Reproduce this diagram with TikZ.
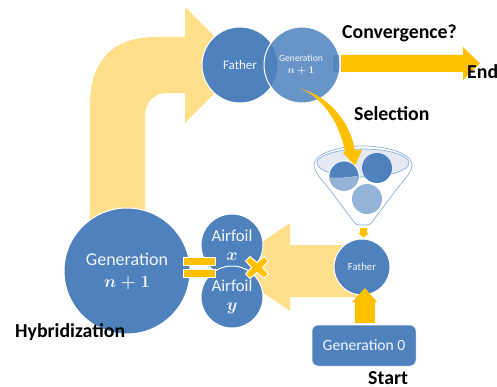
\documentclass[tikz,border=0pt]{standalone}
\usepackage{fontspec}
\setmainfont{Carlito}
\definecolor{blu}{HTML}{4F81BD}
\definecolor{blupale}{HTML}{95B3D7}
\definecolor{org}{HTML}{FFC000}
\definecolor{paley}{HTML}{FFDF8A}
\definecolor{funfill}{HTML}{E4E9F3}
\definecolor{funline}{HTML}{8FB0DC}
\definecolor{wtxt}{HTML}{F2F5FA}
\tikzset{
  ball/.style={circle,fill=blu,draw=white,line width=1pt,inner sep=0pt,text=wtxt,align=center},
  label/.style={font=\bfseries\fontsize{19.8}{22}\selectfont,text=black,inner sep=0pt},
  palearrow/.style={fill=paley,draw=none},
  orgarrow/.style={fill=org,draw=none},
  barstyle/.style={fill=org,draw=white,line width=1pt},
  funnel/.style={draw=funline,line width=0.7pt}
}
\begin{document}
\begin{tikzpicture}[x=1pt,y=-1pt]
\useasboundingbox (0,0) rectangle (497,387);
% big pale arrows
\path[palearrow] (90,220) -- (90,105) .. controls (90,62) and (112,37) .. (155,37) -- (185,37) -- (185,7) -- (243,65) -- (185,123) -- (185,93) -- (168,93) .. controls (154,93) and (145,102) .. (145,116) -- (145,220) -- cycle;
\path[palearrow] (362,245) -- (290,245) -- (290,223) -- (225,267) -- (290,311) -- (290,297) -- (362,297) -- cycle;
% top circles
\node[ball,minimum size=76pt,font=\fontsize{13}{15}\selectfont] (father) at (240,65) {Father};
\node[circle,fill=blu,fill opacity=0.85,draw=white,line width=1pt,minimum size=76pt,inner sep=0pt] (gencirc) at (302,65) {};
\node[text=wtxt,align=center,font=\fontsize{9.6}{11.5}\selectfont\boldmath,inner sep=0pt] (gentext) at (301,65) {Generation\\$n+1$};
% convergence arrow
\path[orgarrow] (341,55) -- (463,55) -- (463,47) -- (480,63.5) -- (463,80) -- (463,72) -- (341,72) -- cycle;
\fill[blu,opacity=0.75] (333,55) rectangle (339,72);
% funnel
\draw[funnel,fill=white] (314,165) .. controls (314,153) and (340,146) .. (363,146) .. controls (386,146) and (412,153) .. (412,165) .. controls (412,172) and (404,180) .. (396,190) -- (372,222) .. controls (370,225) and (368,225) .. (366,225) -- (360,225) .. controls (358,225) and (356,225) .. (354,222) -- (330,190) .. controls (322,180) and (314,172) .. (314,165) -- cycle;
\draw[funnel,fill=funfill] (363,163) ellipse [x radius=46,y radius=14];
\node[circle,fill=blu,minimum size=30pt,inner sep=0pt] (ballb) at (377,168) {};
\node[circle,fill=blu,draw=white,line width=0.8pt,minimum size=30pt,inner sep=0pt] (balla) at (344,176) {};
\begin{scope}
  \clip (300,178) -- (340,178) .. controls (355,177) and (365,175) .. (385,170) -- (420,170) -- (420,230) -- (300,230) -- cycle;
  \fill[white] (344,176) circle (15.4);
  \fill[blupale] (344,176) circle (15);
\end{scope}
\node[circle,fill=blupale,minimum size=30pt,inner sep=0pt] (ballc) at (367,199) {};
% curved arrow into funnel
\path[orgarrow] (300,88.5) .. controls (320,96) and (339,120) .. (345,151.5) -- (343,153) -- (355,165.5) -- (362,150) -- (355,150.5) .. controls (350,122) and (330,97) .. (300,88.5) -- cycle;
% small arrow
\path[orgarrow] (360,228) -- (367,228) -- (367,233) -- (369,233) -- (363.5,237.5) -- (358,233) -- (360,233) -- cycle;
% lower father
\node[ball,minimum size=56pt,font=\fontsize{10.8}{12}\selectfont] (father2) at (362,267) {Father};
% generation 0
\node[rectangle,rounded corners=6pt,fill=blu,draw=white,line width=0.5pt,minimum width=104pt,minimum height=41pt,inner sep=0pt,text=wtxt,font=\fontsize{15.6}{18}\selectfont] (gen0) at (364,345.5) {Generation 0};
\path[orgarrow] (355,323) -- (355,302) -- (352,302) -- (365,288) -- (377,302) -- (375,302) -- (375,323) -- cycle;
% airfoils and generation
\node[ball,minimum size=126pt,font=\fontsize{18}{22}\selectfont\boldmath] (gen) at (127,271) {Generation\\$n+1$};
\node[ball,minimum size=62pt,font=\fontsize{16.8}{19}\selectfont\boldmath] (airx) at (232,245) {Airfoil\\$x$};
\node[ball,minimum size=62pt,font=\fontsize{16.8}{19}\selectfont\boldmath] (airy) at (232,297) {Airfoil\\$y$};
% equals
\draw[barstyle] (183,257) rectangle (215,265);
\draw[barstyle] (183,269) rectangle (215,277);
% multiply
\draw[barstyle,line join=round] (250,256.5) -- (257,262.5) -- (264,256.5) -- (268.5,261) -- (262.5,267.5) -- (268.5,274) -- (264,278.5) -- (257,272.5) -- (250,278.5) -- (245.5,274) -- (251.5,267.5) -- (245.5,261) -- cycle;
% labels
\node[label,anchor=west] (conv) at (342,33.5) {Convergence?};
\node[label,anchor=west] (sel) at (354,114) {Selection};
\node[label,anchor=west] (endl) at (467,72) {End};
\node[label,anchor=west] (hyb) at (15,332.5) {Hybridization};
\node[label,anchor=west] (start) at (368,378.5) {Start};
\end{tikzpicture}
\end{document}
